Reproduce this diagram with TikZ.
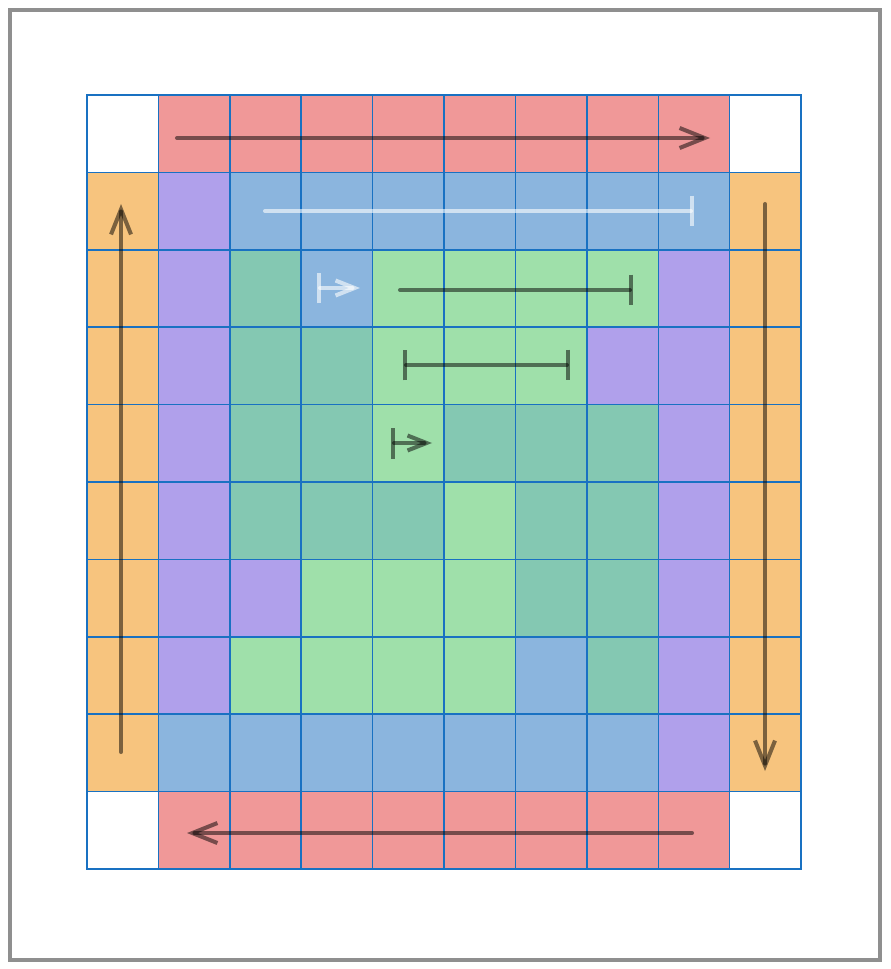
\documentclass[tikz,border=0pt]{standalone}
\usepackage{xcolor}
\usetikzlibrary{arrows.meta}

\definecolor{cellR}{RGB}{240,152,152}
\definecolor{cellB}{RGB}{139,181,222}
\definecolor{cellO}{RGB}{247,196,126}
\definecolor{cellP}{RGB}{176,160,235}
\definecolor{cellT}{RGB}{132,200,178}
\definecolor{cellG}{RGB}{159,224,170}
\definecolor{cellW}{RGB}{255,255,255}
\definecolor{edge}{RGB}{25,113,194}
\definecolor{framegray}{RGB}{143,143,143}

\begin{document}
\begin{tikzpicture}[
  x=0.02cm, y=-0.02cm,
  cell/.style={draw=edge, line width=0.8pt, minimum width=1.428cm,
               minimum height=1.548cm, inner sep=0pt, outer sep=0pt},
  trail/.style={line width=2.3pt, line cap=round, draw=black, draw opacity=0.5},
  ghost/.style={line width=2.3pt, line cap=round, draw=white, draw opacity=0.6},
  chev/.tip={Straight Barb[length=0.5cm, width=0.4cm]},
  minichev/.tip={Straight Barb[length=0.38cm, width=0.3cm]},
  stopbar/.tip={Bar[width=0.62cm]}
]
\useasboundingbox (0,0) rectangle (891,969);
\draw[framegray, line width=2.3pt] (10,10) rectangle (880,960);

% Grid of cells, one row per list
\foreach \r/\lst in {0/{W,R,R,R,R,R,R,R,R,W},
                     1/{O,P,B,B,B,B,B,B,B,O},
                     2/{O,P,T,B,G,G,G,G,P,O},
                     3/{O,P,T,T,G,G,G,P,P,O},
                     4/{O,P,T,T,G,T,T,T,P,O},
                     5/{O,P,T,T,T,G,T,T,P,O},
                     6/{O,P,P,G,G,G,T,T,P,O},
                     7/{O,P,G,G,G,G,B,T,P,O},
                     8/{O,B,B,B,B,B,B,B,P,O},
                     9/{W,R,R,R,R,R,R,R,R,W}}
  \foreach \c [count=\i from 0] in \lst
    \node[cell, fill=cell\c] (cell-\r-\i)
      at ({87+71.4*(\i+0.5)}, {95+77.4*(\r+0.5)}) {};

% End points of the sweeps
\coordinate (top-a) at (177,138);   \coordinate (top-b) at (710,138);
\coordinate (right-a) at (765,204); \coordinate (right-b) at (765,771);
\coordinate (bot-a) at (692,833);   \coordinate (bot-b) at (187,833);
\coordinate (left-a) at (121,752);  \coordinate (left-b) at (121,204);

% End points of the inner runs
\coordinate (run1-a) at (265,211); \coordinate (run1-b) at (694,211);
\coordinate (run2-a) at (317,288); \coordinate (run2-b) at (360,288);
\coordinate (run3-a) at (400,290); \coordinate (run3-b) at (633,290);
\coordinate (run4-a) at (403,365); \coordinate (run4-b) at (570,365);
\coordinate (run5-a) at (391,443); \coordinate (run5-b) at (432,443);

% Outer ring
\draw[trail, -chev] (top-a) -- (top-b);
\draw[trail, -chev] (right-a) -- (right-b);
\draw[trail, -chev] (bot-a) -- (bot-b);
\draw[trail, -chev] (left-a) -- (left-b);

% Inner runs
\draw[ghost, -stopbar] (run1-a) -- (run1-b);
\draw[ghost, stopbar-minichev] (run2-a) -- (run2-b);
\draw[trail, -stopbar] (run3-a) -- (run3-b);
\draw[trail, stopbar-stopbar] (run4-a) -- (run4-b);
\draw[trail, stopbar-minichev] (run5-a) -- (run5-b);
\end{tikzpicture}
\end{document}
